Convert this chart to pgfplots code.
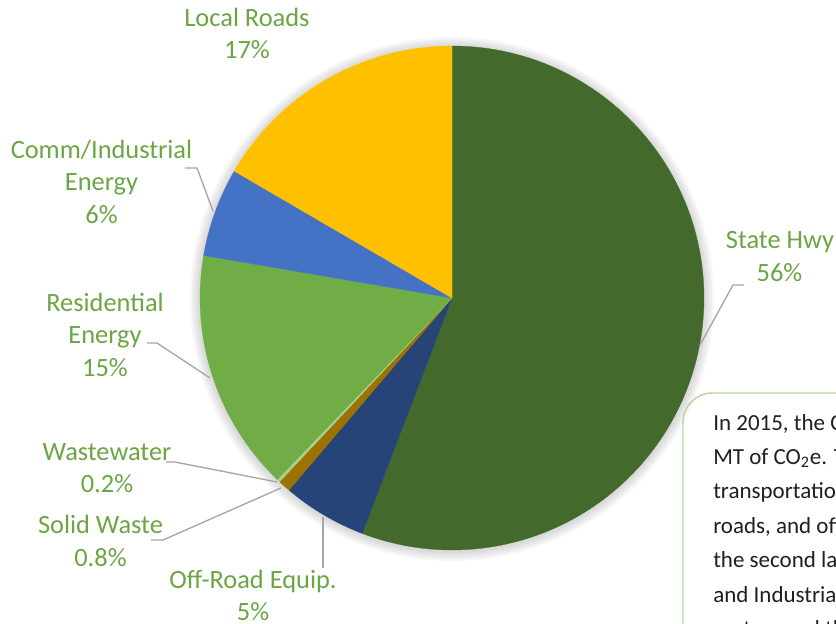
\documentclass[border=0pt]{standalone}
\usepackage{fontspec}
\setmainfont{Carlito}
\usepackage{pgfplots}
\usepackage{pgfplotstable}
\pgfplotsset{compat=1.18}

\definecolor{cHwy}{HTML}{44692C}
\definecolor{cOff}{HTML}{264478}
\definecolor{cSolid}{HTML}{9C7300}
\definecolor{cWaste}{HTML}{A9D18E}
\definecolor{cRes}{HTML}{70AD47}
\definecolor{cComm}{HTML}{4472C4}
\definecolor{cLocal}{HTML}{FFC000}
\definecolor{cLabel}{HTML}{6BA544}
\definecolor{cLeader}{HTML}{A6A6A6}
\definecolor{cBox}{HTML}{B4D8A0}

% share of 2015 emissions (percent), clockwise from 12 o'clock
\pgfplotstableread{
value colour
55.8 cHwy
5.4  cOff
0.8  cSolid
0.2  cWaste
15.5 cRes
5.7  cComm
16.6 cLocal
}\piedata

\newcommand\lab{\fontsize{19.8}{24}\selectfont}
\newcommand\boxfont{\fontsize{17.25}{25.8}\selectfont}

\begin{document}
\begin{tikzpicture}
\useasboundingbox (0,0) rectangle (627pt,468pt);
\clip (0,0) rectangle (627pt,468pt);
\begin{axis}[
  at={(0,0)}, anchor=south west,
  scale only axis, width=627pt, height=468pt,
  xmin=0, xmax=836, ymin=0, ymax=624, y dir=reverse,
  hide axis, clip=false,
]
% soft shadow
\pgfplotsextra{
  \foreach \rr in {190.5pt,192pt,193.5pt,195pt,196.5pt}{
    \fill[black, opacity=0.03] (452,299) circle[radius=\rr];
  }
  \fill[white] (452,298) circle[radius=189pt];
}
% pie slices
\pgfplotsextra{
  \def\startang{90}
  \pgfplotsforeachungrouped \i in {0,...,6}{
    \pgfplotstablegetelem{\i}{value}\of\piedata \let\sliceval\pgfplotsretval
    \pgfplotstablegetelem{\i}{colour}\of\piedata \let\slicecol\pgfplotsretval
    \pgfmathsetmacro\endang{\startang-3.6*\sliceval}
    \fill[color=\slicecol, draw=\slicecol, line width=0.25pt, line join=round]
      (452,298) -- ++(\startang:189pt)
      arc[start angle=\startang, end angle=\endang, radius=189pt] -- cycle;
    \global\let\startang\endang
  }
}
% leader lines
\draw[cLeader, line width=1pt] (185,168) -- (197,168) -- (213,211);
\draw[cLeader, line width=1pt] (147,343) -- (157,343) -- (210,378);
\draw[cLeader, line width=1pt] (166,462) -- (175,462) -- (277,482);
\draw[cLeader, line width=1pt] (151,540) -- (163,540) -- (281,488);
\draw[cLeader, line width=1pt] (323,517) -- (323,568);
\draw[cLeader, line width=1pt] (744,285) -- (733,285) -- (700,345);
% labels
\begin{scope}[every node/.style={anchor=base, inner sep=0pt, font=\lab, text=cLabel}]
\node at (247,27) {Local Roads};
\node at (247,59) {17\%};
\node at (101.5,158) {Comm/Industrial};
\node at (101.5,190.5) {Energy};
\node at (101.5,223) {6\%};
\node at (105,311) {Residential};
\node at (105,343.5) {Energy};
\node at (105,376) {15\%};
\node at (107,460) {Wastewater};
\node at (107,492) {0.2\%};
\node at (100.5,533) {Solid Waste};
\node at (100.5,566) {0.8\%};
\node at (253,588) {Off-Road Equip.};
\node at (253,620) {5\%};
\node at (780,248) {State Hwy};
\node at (779.5,281) {56\%};
\end{scope}
% text box
\draw[cBox, line width=1.1pt, rounded corners=22pt] (683,393) rectangle (960,760);
\begin{scope}[every node/.style={anchor=base west, inner sep=0pt, font=\boxfont, text=black!88}]
\node at (713,430) {In 2015, the County emitted};
\node at (713,464.4) {MT of CO\textsubscript{2}e. The};
\node at (713,498.8) {transportation sector};
\node at (713,533.2) {roads, and off-road};
\node at (713,567.6) {the second largest};
\node at (713,602) {and Industrial energy};
\node at (713,636.4) {sectors and the};
\end{scope}
\end{axis}
\end{tikzpicture}
\end{document}
